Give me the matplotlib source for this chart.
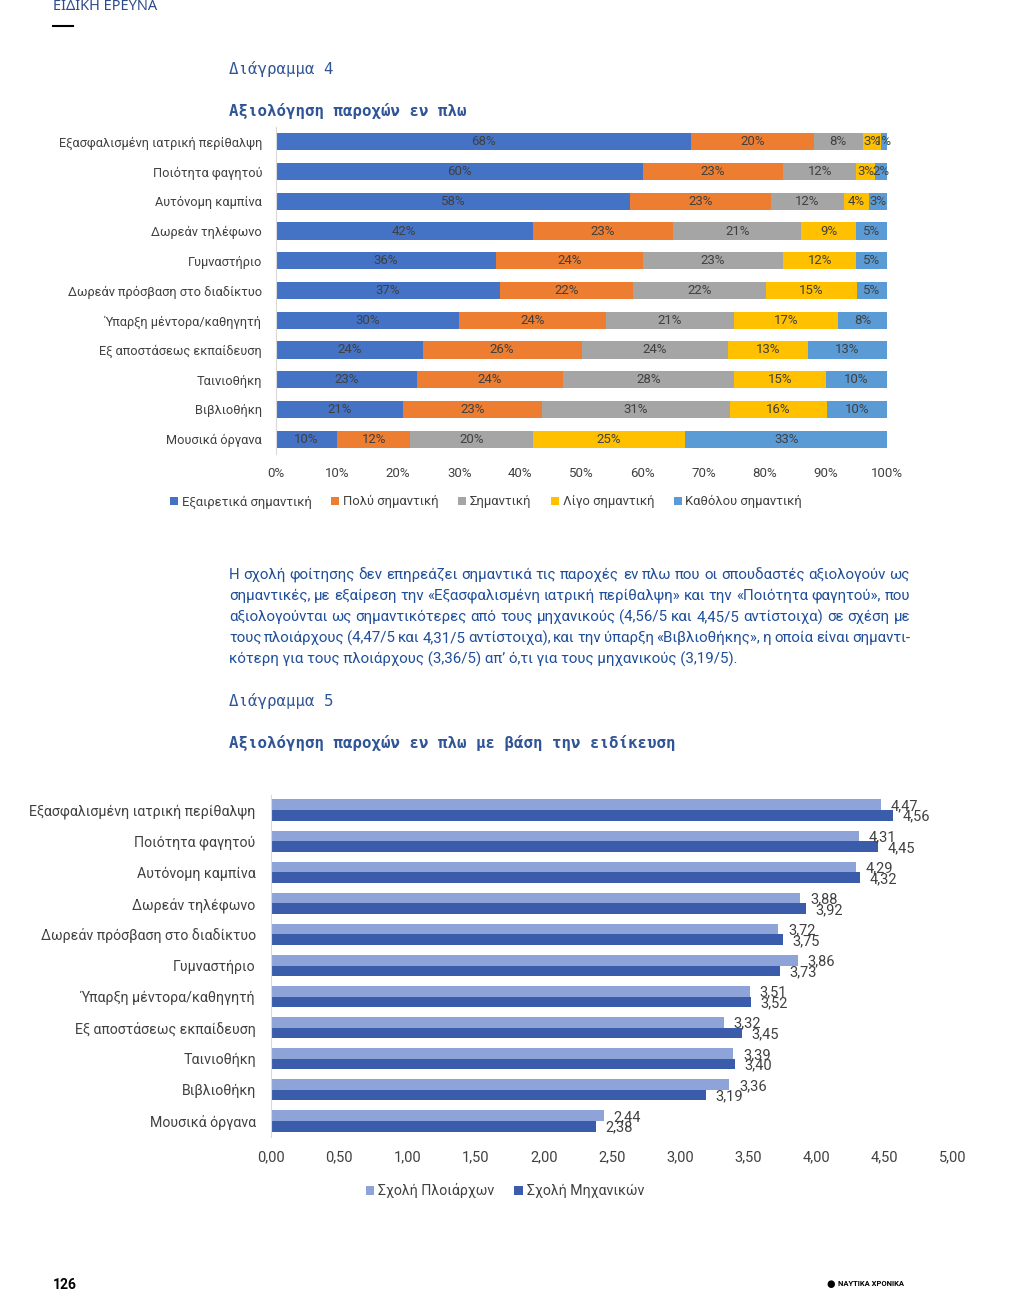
import matplotlib
matplotlib.use("Agg")
import matplotlib.pyplot as plt
import numpy as np

W, H = 1009, 1291

# ---- data: chart 4 (stacked percentages) ----
cats1 = ["Εξασφαλισμένη ιατρική περίθαλψη", "Ποιότητα φαγητού", "Αυτόνομη καμπίνα",
         "Δωρεάν τηλέφωνο", "Γυμναστήριο", "Δωρεάν πρόσβαση στο διαδίκτυο",
         "Ύπαρξη μέντορα/καθηγητή", "Εξ αποστάσεως εκπαίδευση", "Ταινιοθήκη",
         "Βιβλιοθήκη", "Μουσικά όργανα"]
levels = ["Εξαιρετικά σημαντική", "Πολύ σημαντική", "Σημαντική", "Λίγο σημαντική", "Καθόλου σημαντική"]
extremely = [68, 60, 58, 42, 36, 37, 30, 24, 23, 21, 10]
very = [20, 23, 23, 23, 24, 22, 24, 26, 24, 23, 12]
important = [8, 12, 12, 21, 23, 22, 21, 24, 28, 31, 20]
little = [3, 3, 4, 9, 12, 15, 17, 13, 15, 16, 25]
notatall = [1, 2, 3, 5, 5, 5, 8, 13, 10, 10, 33]
colors1 = ["#4472C4", "#ED7D31", "#A5A5A5", "#FFC000", "#5B9BD5"]
xticks1 = ["0%", "10%", "20%", "30%", "40%", "50%", "60%", "70%", "80%", "90%", "100%"]

# ---- data: chart 5 (means by school) ----
cats2 = ["Εξασφαλισμένη ιατρική περίθαλψη", "Ποιότητα φαγητού", "Αυτόνομη καμπίνα",
         "Δωρεάν τηλέφωνο", "Δωρεάν πρόσβαση στο διαδίκτυο", "Γυμναστήριο",
         "Ύπαρξη μέντορα/καθηγητή", "Εξ αποστάσεως εκπαίδευση", "Ταινιοθήκη",
         "Βιβλιοθήκη", "Μουσικά όργανα"]
captains = [4.47, 4.31, 4.29, 3.88, 3.72, 3.86, 3.51, 3.32, 3.39, 3.36, 2.44]
engineers = [4.56, 4.45, 4.32, 3.92, 3.75, 3.73, 3.52, 3.45, 3.40, 3.19, 2.38]
schools = ["Σχολή Πλοιάρχων", "Σχολή Μηχανικών"]
colors2 = ["#8EA3D8", "#3A5CAB"]
xticks2 = ["0,00", "0,50", "1,00", "1,50", "2,00", "2,50", "3,00", "3,50", "4,00", "4,50", "5,00"]

paragraph = [
    "Η σχολή φοίτησης δεν επηρεάζει σημαντικά τις παροχές εν πλω που οι σπουδαστές αξιολογούν ως",
    "σημαντικές, με εξαίρεση την «Εξασφαλισμένη ιατρική περίθαλψη» και την «Ποιότητα φαγητού», που",
    "αξιολογούνται ως σημαντικότερες από τους μηχανικούς (4,56/5 και 4,45/5 αντίστοιχα) σε σχέση με",
    "τους πλοιάρχους (4,47/5 και 4,31/5 αντίστοιχα), και την ύπαρξη «Βιβλιοθήκης», η οποία είναι σημαντι-",
    "κότερη για τους πλοιάρχους (3,36/5) απ’ ό,τι για τους μηχανικούς (3,19/5).",
]

plt.rcParams['font.family'] = ['Roboto', 'DejaVu Sans']
TXT = "#404040"
BLUE_T = "#2F5597"
MONO = ['DejaVu Sans Mono']

fig = plt.figure(figsize=(W / 100, H / 100), dpi=100)
fig.patch.set_facecolor("white")


def fx(x):
    return x / W


def fy(y):
    return 1 - y / H


def axes_px(x0, y0, x1, y1):
    return fig.add_axes([fx(x0), fy(y1), fx(x1) - fx(x0), (y1 - y0) / H])


# ---- page header ----
fig.text(fx(53), fy(6), "ΕΙΔΙΚΗ ΕΡΕΥΝΑ", fontsize=10.5, fontweight="bold", color="#2B4C8C",
         family=['Noto Sans', 'DejaVu Sans'], va="center", ha="left")
fig.add_artist(plt.Line2D([fx(53), fx(73)], [fy(26), fy(26)], color="black", lw=1.5))

fig.text(fx(229), fy(69), "Διάγραμμα 4", fontsize=11.3, family=MONO, color=BLUE_T, va="center")
fig.text(fx(229), fy(111), "Αξιολόγηση παροχών εν πλω", fontsize=11.3, family=MONO,
         fontweight="bold", color=BLUE_T, va="center")

# ---- chart 4 ----
ax1 = axes_px(276, 127, 887, 454)
data1 = np.array([extremely, very, important, little, notatall], dtype=float)
tot = data1.sum(axis=0)
ypos = np.arange(len(cats1))
left = np.zeros(len(cats1))
for i, lev in enumerate(levels):
    vals = data1[i] / tot * 100
    bars = ax1.barh(ypos, vals, left=left, height=0.58, color=colors1[i], label=lev)
    for j, b in enumerate(bars):
        ax1.text(left[j] + vals[j] / 2, ypos[j], f"{int(data1[i][j])}%", ha="center", va="center",
                 fontsize=9.5, color=TXT)
    left += vals
ax1.set_xlim(0, 100)
ax1.set_ylim(len(cats1) - 0.5, -0.5)
ax1.set_yticks(ypos)
ax1.set_yticklabels(cats1, fontsize=9.2, color=TXT)
ax1.set_xticks(np.arange(0, 101, 10))
ax1.set_xticklabels(xticks1, fontsize=9.5, color=TXT)
ax1.tick_params(axis="y", length=0, pad=10)
ax1.tick_params(axis="x", length=0, pad=9)
for s in ["top", "right", "bottom"]:
    ax1.spines[s].set_visible(False)
ax1.spines["left"].set_color("#D9D9D9")
h1, l1 = ax1.get_legend_handles_labels()
fig.legend(h1, l1, loc="center", bbox_to_anchor=(fx(486), fy(502)), ncol=5, frameon=False,
           fontsize=9.4, handlelength=0.6, handleheight=0.6, handletextpad=0.3, columnspacing=1.5,
           labelcolor=TXT)

# ---- paragraph (justified) ----
renderer = fig.canvas.get_renderer()
PFAM = ['Roboto', 'DejaVu Sans']
py = 575
for k, line in enumerate(paragraph):
    if k == len(paragraph) - 1:
        fig.text(fx(229), fy(py), line, fontsize=10.8, color="#1F4E9A", va="center", family=PFAM)
        break
    words = line.split(" ")
    arts = [fig.text(0, fy(py), w, fontsize=10.8, color="#1F4E9A", va="center", family=PFAM)
            for w in words]
    widths = [a.get_window_extent(renderer).width for a in arts]
    x0, x1 = 229, 910
    gap = (x1 - x0 - sum(widths)) / (len(words) - 1)
    x = x0
    for a, w in zip(arts, widths):
        a.set_x(fx(x))
        x += w + gap
    py += 21

fig.text(fx(229), fy(701), "Διάγραμμα 5", fontsize=11.3, family=MONO, color=BLUE_T, va="center")
fig.text(fx(229), fy(743), "Αξιολόγηση παροχών εν πλω με βάση την ειδίκευση", fontsize=11.3,
         family=MONO, fontweight="bold", color=BLUE_T, va="center")

# ---- chart 5 ----
ax2 = axes_px(271, 794.5, 953, 1136.5)
y2 = np.arange(len(cats2))
bh = 0.34
ax2.barh(y2 - bh / 2, captains, height=bh, color=colors2[0], label=schools[0])
ax2.barh(y2 + bh / 2, engineers, height=bh, color=colors2[1], label=schools[1])
for j in range(len(cats2)):
    ax2.annotate(f"{captains[j]:.2f}".replace(".", ","), (captains[j], y2[j] - bh / 2),
                 xytext=(7, -1), textcoords="offset points", va="center", ha="left",
                 fontsize=10.5, color=TXT)
    ax2.annotate(f"{engineers[j]:.2f}".replace(".", ","), (engineers[j], y2[j] + bh / 2),
                 xytext=(7, -1), textcoords="offset points", va="center", ha="left",
                 fontsize=10.5, color=TXT)
ax2.set_xlim(0, 5)
ax2.set_ylim(len(cats2) - 0.5, -0.5)
ax2.set_yticks(y2)
ax2.set_yticklabels(cats2, fontsize=10.2, color=TXT)
ax2.set_xticks(np.arange(0, 5.01, 0.5))
ax2.set_xticklabels(xticks2, fontsize=10.5, color=TXT)
ax2.tick_params(axis="y", length=0, pad=11)
ax2.tick_params(axis="x", length=0, pad=10)
for s in ["top", "right", "bottom"]:
    ax2.spines[s].set_visible(False)
ax2.spines["left"].set_color("#D9D9D9")
h2, l2 = ax2.get_legend_handles_labels()
fig.legend(h2, l2, loc="center", bbox_to_anchor=(fx(505), fy(1191)), ncol=2, frameon=False,
           fontsize=10.2, handlelength=0.6, handleheight=0.6, handletextpad=0.3, columnspacing=1.4,
           labelcolor=TXT)

# ---- footer ----
fig.text(fx(53), fy(1285), "126", fontsize=10, fontweight="bold", color="black", va="center")
fig.text(fx(831), fy(1284), "●", fontsize=7, color="black", va="center", ha="center")
fig.text(fx(838), fy(1284), "ΝΑΥΤΙΚΑ ΧΡΟΝΙΚΑ", fontsize=5.5, fontweight="bold", color="black",
         va="center", ha="left")

fig.savefig("out.png", dpi=100)
